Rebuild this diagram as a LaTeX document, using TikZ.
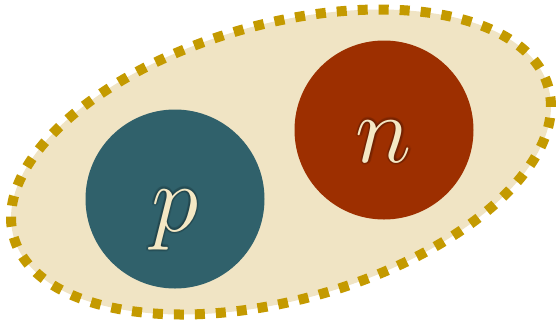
\RequirePackage{fix-cm}
\documentclass[tikz,border=0pt]{standalone}
\usepackage{tikz}
\usetikzlibrary{shapes.geometric,positioning}
\definecolor{Sand}{RGB}{240,228,196}
\definecolor{Gold}{RGB}{196,154,0}
\definecolor{Teal}{RGB}{48,97,107}
\definecolor{Rust}{RGB}{157,47,0}
\definecolor{Cream}{RGB}{244,232,196}

\begin{document}
\begin{tikzpicture}[x=0.75pt,y=-0.75pt,
  every node/.style={inner sep=0pt},
  nucleon/.style={circle,minimum size=134.25pt},
  letter/.style={text=Cream,font=\fontsize{72}{72}\selectfont,
                 text height=48pt,text depth=0pt},
  glow/.style={letter,text=black,text opacity=0.09}]
  \useasboundingbox (0,0) rectangle (557,326);
  % the bound pair
  \node[ellipse,draw=Gold,fill=Sand,line width=7.5pt,
        dash pattern=on 7.5pt off 8.25pt,
        minimum width=416.5pt,minimum height=206.9pt,rotate=15.65]
        (deuteron) at (281,162) {};
  \node[nucleon,fill=Teal] (p) at (175,199) {};
  \node[nucleon,fill=Rust] (n) at (384,130) {};
  % soft shadow behind the letters
  \foreach \a in {0,45,...,315}{
    \node[glow] (p-glow-\a) at ([shift={(\a:2.2)}]p.center) {$p$};
    \node[glow] (n-glow-\a) at ([shift={(\a:2.2)}]n.center) {$n$};
  }
  \node[letter] (p-label) at (p) {$p$};
  \node[letter] (n-label) at (n) {$n$};
\end{tikzpicture}
\end{document}
